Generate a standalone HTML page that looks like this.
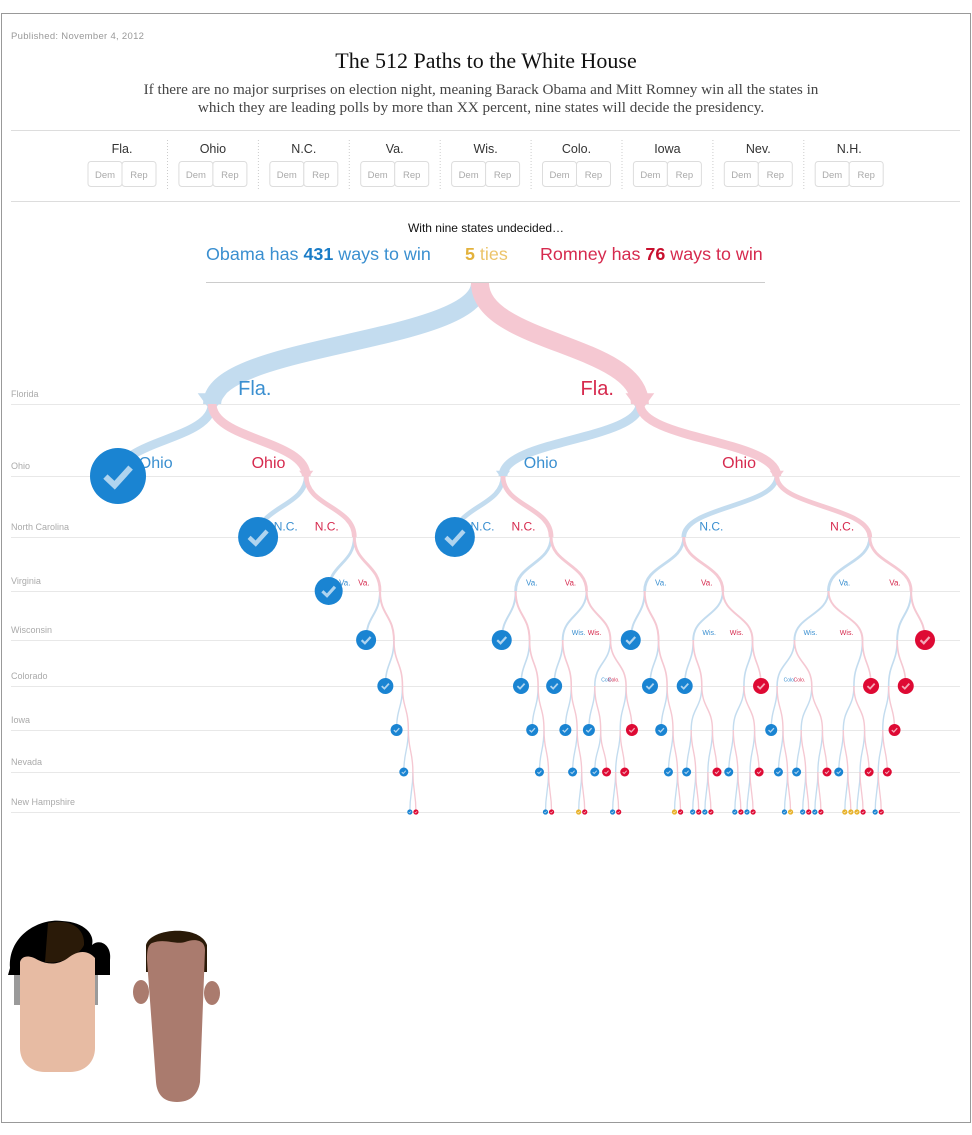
<!DOCTYPE html>
<html><head><meta charset="utf-8"><style>
html,body{margin:0;padding:0;background:#fff;}
svg{display:block;}
text{font-family:"Liberation Sans",sans-serif;}
.serif{font-family:"Liberation Serif",serif;}
</style></head><body>
<svg id="chart" width="972" height="1135" viewBox="0 0 972 1135" xmlns="http://www.w3.org/2000/svg">
<rect x="1.5" y="13.5" width="969" height="1109" fill="#fff" stroke="#999" stroke-width="1"/>
<text x="11" y="39" font-size="9.5" fill="#999" letter-spacing="0.3">Published: November 4, 2012</text>
<text class="serif" x="486" y="68" font-size="22" fill="#111" text-anchor="middle">The 512 Paths to the White House</text>
<text class="serif" x="481" y="94" font-size="15.2" fill="#444" text-anchor="middle">If there are no major surprises on election night, meaning Barack Obama and Mitt Romney win all the states in</text>
<text class="serif" x="481" y="112" font-size="15.2" fill="#444" text-anchor="middle">which they are leading polls by more than XX percent, nine states will decide the presidency.</text>
<line x1="11" y1="130.5" x2="960" y2="130.5" stroke="#ddd"/>
<g id="buttons"></g>
<line x1="11" y1="201.5" x2="960" y2="201.5" stroke="#ddd"/>
<text x="486" y="232" font-size="12" fill="#111" text-anchor="middle">With nine states undecided…</text>
<text x="206" y="260" font-size="17.9" fill="#3a8fd0">Obama has <tspan font-weight="bold" fill="#1a7cc7">431</tspan> ways to win</text>
<text x="465" y="260" font-size="17.9" fill="#ecc46a"><tspan font-weight="bold" fill="#e3b23c">5</tspan> ties</text>
<text x="540" y="260" font-size="17.9" fill="#d62a4e">Romney has <tspan font-weight="bold" fill="#c8102e">76</tspan> ways to win</text>
<line x1="206" y1="282.5" x2="765" y2="282.5" stroke="#ccc"/>
<g id="rows"></g>
<g id="edges"></g>
<g id="labels"></g>
<g id="leaves"></g>
<g>
<path d="M10 968 C8 935 40 918 62 921 C85 922 95 935 92 945 C100 938 112 945 110 960 L110 975 L8 975 Z" fill="#000"/>
<path d="M48 923 C70 918 85 928 84 945 C80 955 60 965 45 962 Z" fill="#2a1a08"/>
<rect x="14" y="975" width="7" height="30" fill="#9a9a9a"/>
<rect x="90" y="975" width="8" height="30" fill="#9a9a9a"/>
<path d="M20 962 C22 955 30 955 38 960 C48 965 58 965 68 958 C78 950 88 950 95 958 L95 1048 C95 1062 85 1072 70 1072 L45 1072 C30 1072 20 1062 20 1048 Z" fill="#e7bba3"/>
</g>
<g>
<path d="M146 972 L146 945 C150 928 200 924 207 945 L207 972 Z" fill="#2a1a08"/>
<ellipse cx="141" cy="992" rx="8" ry="12" fill="#aa7b6e"/>
<ellipse cx="212" cy="993" rx="8" ry="12" fill="#aa7b6e"/>
<path d="M152 943 C165 938 175 945 185 942 C195 938 205 940 205 950 L200 1082 C198 1095 190 1102 177 1102 C164 1102 157 1095 156 1082 L147 960 C147 950 148 945 152 943 Z" fill="#aa7b6e"/>
</g>
<script>
// ---- data ----
const stateNames = ['Florida','Ohio','North Carolina','Virginia','Wisconsin','Colorado','Iowa','Nevada','New Hampshire'];
const stateAbbr = ['Fla.','Ohio','N.C.','Va.','Wis.','Colo.','Iowa','Nev.','N.H.'];
// tree: [demBranch, repBranch]; leaves 'D' Obama wins, 'R' Romney wins, 'T' tie
const treeFlaDem = ['D',['D',['D',['D',['D',['D',['D',['D','R']]]]]]]];
const treeFlaRepOhioDem = ['D',[
  ['D',['D',['D',['D',['D','R']]]]],
  [ ['D',['D',['D',['T','R']]]],
    [ ['D',['D','R']], [[['D','R'],'R'],'R'] ] ]
]];
const treeFlaRepOhioRep = [
  [ ['D',['D',['D',['D',['T','R']]]]],
    [ ['D',[['D',['D','R']],[['D','R'],'R']]],
      [[['D',['D','R']],[['D','R'],'R']],'R'] ] ],
  [ [ [['D',['D',['D','T']]], [['D',['D','R']],[['D','R'],'R']]],
      [[['D',['T','T']],[['T','R'],'R']],'R'] ],
    [[[[['D','R'],'R'],'R'],'R'],'R'] ]
];
const tree = [treeFlaDem, [treeFlaRepOhioDem, treeFlaRepOhioRep]];

// ---- layout ----
const NS='http://www.w3.org/2000/svg';
const levelY=[404,476,537,591,640,686,730,772,812];
const rootX=480, rootY=283;
const radius=[30,28,20,14,10,8,6,4.5,2.6];
const minOff=[200,88,45,24,13,8,5,3.5,2];
const gapL=[20,14,12,9,7,5,3,2,0.5];
function el(tag,attrs,parent){const e=document.createElementNS(NS,tag);for(const k in attrs)e.setAttribute(k,attrs[k]);parent.appendChild(e);return e;}

// state selector buttons
const btns=document.getElementById('buttons');
stateAbbr.forEach((a,i)=>{
  const cx=122+i*90.9;
  const g=el('g',{},btns);
  
  
  const t=el('text',{x:cx,y:153,'font-size':12.5,fill:'#333','text-anchor':'middle'},g);t.textContent=a;
  const d=el('g',{},g);
  
  
  el('rect',{x:cx-34,y:161.5,width:34,height:25,rx:3,fill:'#fff',stroke:'#ddd'},d);
  const dt=el('text',{x:cx-17,y:178,'font-size':9.5,fill:'#aaa','text-anchor':'middle'},d);dt.textContent='Dem';
  const r=el('g',{},g);
  
  
  el('rect',{x:cx,y:161.5,width:34,height:25,rx:3,fill:'#fff',stroke:'#ddd'},r);
  const rt=el('text',{x:cx+17,y:178,'font-size':9.5,fill:'#aaa','text-anchor':'middle'},r);rt.textContent='Rep';
  if(i<8){el('line',{x1:cx+45.5,y1:140,x2:cx+45.5,y2:191,stroke:'#ccc','stroke-dasharray':'1,2'},g);}
});

// rows
const rows=document.getElementById('rows');
stateNames.forEach((s,i)=>{
  const g=el('g',{},rows);
  
  
  el('line',{x1:11,y1:levelY[i]+0.5,x2:960,y2:levelY[i]+0.5,stroke:'#e8e8e8'},g);
  const t=el('text',{x:11,y:levelY[i]-7,'font-size':9,fill:'#aaa'},g);t.textContent=s;
});

// tidy layout with contours
function build(n,level,party){
  const node={n,level,party,children:[],contour:{}};
  if(typeof n==='string'){node.contour[level]=[-radius[level],radius[level]];return node;}
  const a=build(n[0],level+1,'D'), b=build(n[1],level+1,'R');
  let d=2*minOff[level+1];
  for(const L in a.contour){ if(b.contour[L]){ d=Math.max(d,a.contour[L][1]-b.contour[L][0]+gapL[L]); } }
  a.off=-d/2; b.off=d/2;
  node.children=[a,b];
  if(level>=0) node.contour[level]=[-2,2];
  [a,b].forEach(c=>{for(const L in c.contour){const v=[c.contour[L][0]+c.off,c.contour[L][1]+c.off];
    if(node.contour[L]){node.contour[L]=[Math.min(node.contour[L][0],v[0]),Math.max(node.contour[L][1],v[1])];}else node.contour[L]=v;}});
  return node;
}
const root=build(tree,-1,null);
root.x=0;
const all=[];
function absx(nd){all.push(nd);nd.children.forEach(c=>{c.x=nd.x+c.off;absx(c);});}
absx(root);
let minX=Infinity,maxX=-Infinity;
all.forEach(nd=>{if(typeof nd.n==='string'){minX=Math.min(minX,nd.x);maxX=Math.max(maxX,nd.x);}});
const sx=x=>118+(x-minX)*(925-118)/(maxX-minX);
all.forEach(nd=>{nd.px=nd.level<0?rootX:sx(nd.x);});
function yOf(l){return l<0?rootY:levelY[l];}
function leafCount(l){return Math.pow(2,8-l);}
const edges=document.getElementById('edges'),labels=document.getElementById('labels'),leaves=document.getElementById('leaves');
const labelSize=[20,16,12,8,7,5,0,0,0];
const colors={D:'#1a84d2',R:'#de0a34',T:'#e8b22a'};
function draw(nd){
  nd.children.forEach(c=>{
    const y0=yOf(nd.level),y1=yOf(c.level),ym=(y0+y1)/2;
    const w=1.3+16.7*Math.pow(leafCount(c.level)/256,1.15);
    const p=el('path',{d:`M${nd.px},${y0} C${nd.px},${ym} ${c.px},${ym} ${c.px},${y1}`,fill:'none',stroke:c.party==='D'?'#c3dcef':'#f5c8d2','stroke-width':w},edges);
    
    
    if(c.level<=1 && typeof c.n!=='string'){
      const a=el('path',{d:`M${c.px-w*0.8},${y1-w*0.6} L${c.px+w*0.8},${y1-w*0.6} L${c.px},${y1+w*0.5} Z`,fill:c.party==='D'?'#c3dcef':'#f5c8d2'},edges);
      
      
    }
    const fs=labelSize[c.level];
    const isLeaf=typeof c.n==='string';
    const sibLeaf=nd.children.some(s=>typeof s.n==='string');
    if(fs>0 && !(c.level>=4 && sibLeaf) && !(c.level===3 && isLeaf && false)){
      const dx=fs*1.3;
      const t=el('text',{x:c.party==='D'?c.px+dx:c.px-dx,y:y1-fs*0.3-3,'font-size':fs,fill:c.party==='D'?'#3a8fd0':'#d62a4e','text-anchor':c.party==='D'?'start':'end'},labels);
      
      
      t.textContent=stateAbbr[c.level];
    }
    draw(c);
  });
  if(typeof nd.n==='string'){
    const r=radius[nd.level],y=yOf(nd.level);
    const g=el('g',{},leaves);
    
    
    el('circle',{cx:nd.px,cy:y,r:r,fill:colors[nd.n]},g);
    el('path',{d:`M${nd.px-0.45*r},${y+0.02*r} L${nd.px-0.12*r},${y+0.33*r} L${nd.px+0.45*r},${y-0.3*r}`,fill:'none',stroke:'#fff','stroke-opacity':0.65,'stroke-width':Math.max(0.8,0.22*r)},g);
  }
}
draw(root);
</script>
</svg>
</body></html>
